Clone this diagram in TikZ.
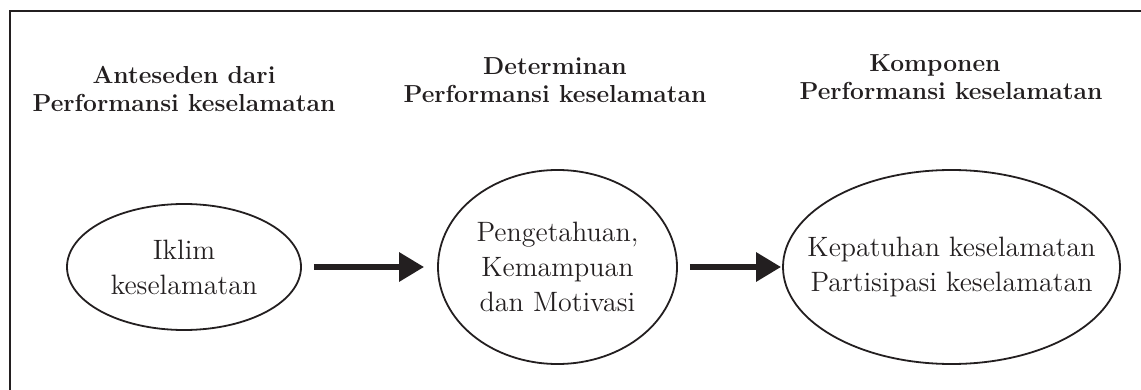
\documentclass[tikz,border=0pt]{standalone}
\usepackage{tikz}
\usetikzlibrary{shapes.geometric,arrows.meta}
\definecolor{tinta}{RGB}{35,31,32}

\begin{document}
\begin{tikzpicture}[x=0.5pt,y=-0.5pt,color=tinta,
		judul/.style={font=\fontsize{12.3}{13.75}\selectfont\bfseries, align=center, inner sep=0pt},
		bulat/.style={draw, ellipse, line width=0.9pt, inner sep=0pt},
		isi/.style={font=\fontsize{14}{17.5}\selectfont, align=center, inner sep=0pt},
		panah/.style={line width=3pt, -{Triangle[length=12.5pt,width=14pt]}}]
		\useasboundingbox (0,0) rectangle (1141,390);
		\draw[line width=1.3pt] (1170,11) -- (10,11) -- (10,420);
		\node[judul] (h1) at (184,89) {Anteseden dari\\Performansi keselamatan};
		\node[judul] (h2) at (555,80) {Determinan\\Performansi keselamatan};
		\node[judul] (h3) at (951,77) {Komponen\hspace*{16pt}\\Performansi keselamatan};
		\node[bulat, minimum width=117pt, minimum height=63pt] (e1) at (184,267) {};
		\node[bulat, minimum width=119.5pt, minimum height=97pt] (e2) at (557.5,267) {};
		\node[bulat, minimum width=168.5pt, minimum height=97pt] (e3) at (951.5,267) {};
		\node[isi] (t1) at (e1) {Iklim\\keselamatan};
		\node[isi] (t2) at (e2) {Pengetahuan,\\Kemampuan\\dan Motivasi};
		\node[isi] (t3) at (e3) {Kepatuhan keselamatan\\Partisipasi keselamatan};
		\draw[panah, shorten <=6pt, shorten >=6.5pt] (e1) -- (e2);
		\draw[panah, shorten <=6pt, shorten >=0.5pt] (e2) -- (e3);
	\end{tikzpicture}
\end{document}
